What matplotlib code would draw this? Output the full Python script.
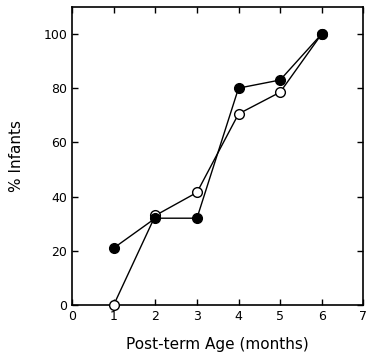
import matplotlib
matplotlib.use('Agg')
import matplotlib.pyplot as plt

months = [1, 2, 3, 4, 5, 6]
filled_pct = [21, 32, 32, 80, 83, 100]
open_pct = [0, 33, 41.5, 70.5, 78.5, 100]

xticks = [0, 1, 2, 3, 4, 5, 6, 7]
yticks = [0, 20, 40, 60, 80, 100]

plt.rcParams['font.family'] = 'DejaVu Sans'

fig = plt.figure(figsize=(3.7, 3.6), dpi=100)
ax = fig.add_axes([0.195, 0.153, 0.787, 0.828])

# open circles first so the filled ones sit on top
ax.plot(months, open_pct, color='black', lw=1, marker='o', ms=7,
        mfc='white', mec='black', mew=1, clip_on=False, zorder=3)
ax.plot(months, filled_pct, color='black', lw=1, marker='o', ms=7,
        mfc='black', mec='black', clip_on=False, zorder=4)

ax.set_xlim(0, 7)
ax.set_ylim(0, 110)
ax.set_xticks(xticks)
ax.set_yticks(yticks)
ax.tick_params(direction='in', top=True, right=True, length=4, width=1,
               labelsize=9, colors='black')
for s in ax.spines.values():
    s.set_linewidth(1.2)

ax.set_xlabel('Post-term Age (months)', fontsize=11, labelpad=10)
ax.set_ylabel('% Infants', fontsize=11, labelpad=14)

fig.savefig('out.png', dpi=100)
